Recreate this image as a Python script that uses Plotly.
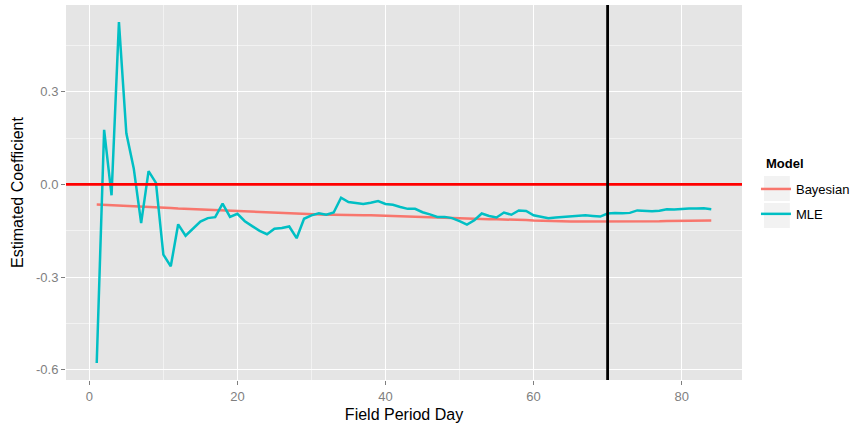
import plotly.graph_objects as go

days = list(range(1, 85))

bayesian = [
    -0.065, -0.066, -0.066, -0.067, -0.068,
    -0.070, -0.071, -0.071, -0.072, -0.073,
    -0.076, -0.078, -0.079, -0.080, -0.081,
    -0.082, -0.083, -0.084, -0.086, -0.087,
    -0.089, -0.090, -0.091, -0.092, -0.093,
    -0.093, -0.094, -0.095, -0.096, -0.097,
    -0.098, -0.098, -0.098, -0.099, -0.099,
    -0.099, -0.100, -0.100, -0.100, -0.101,
    -0.102, -0.103, -0.104, -0.105, -0.106,
    -0.107, -0.108, -0.109, -0.110, -0.111,
    -0.111, -0.112, -0.112, -0.113, -0.113,
    -0.113, -0.114, -0.114, -0.115, -0.117,
    -0.118, -0.119, -0.119, -0.119, -0.120,
    -0.120, -0.120, -0.121, -0.121, -0.121,
    -0.121, -0.121, -0.120, -0.120, -0.119,
    -0.119, -0.119, -0.118, -0.118, -0.118,
    -0.118, -0.117, -0.117, -0.117,
]

mle = [
    -0.578, 0.177, -0.035, 0.526, 0.166,
    0.052, -0.125, 0.043, 0.005, -0.227,
    -0.265, -0.129, -0.166, -0.143, -0.120,
    -0.109, -0.106, -0.062, -0.105, -0.095,
    -0.119, -0.135, -0.150, -0.161, -0.143,
    -0.141, -0.136, -0.174, -0.111, -0.100,
    -0.093, -0.098, -0.091, -0.043, -0.057,
    -0.060, -0.063, -0.059, -0.054, -0.063,
    -0.066, -0.073, -0.079, -0.079, -0.090,
    -0.097, -0.105, -0.105, -0.109, -0.119,
    -0.130, -0.116, -0.094, -0.102, -0.107,
    -0.091, -0.098, -0.084, -0.086, -0.100,
    -0.105, -0.109, -0.107, -0.105, -0.104,
    -0.100, -0.100, -0.102, -0.104, -0.094,
    -0.092, -0.093, -0.092, -0.084, -0.086,
    -0.087, -0.085, -0.080, -0.081, -0.079,
    -0.078, -0.078, -0.077, -0.080,
]

x_ticks = [0, 20, 40, 60, 80]
y_ticks = [-0.6, -0.3, 0.0, 0.3]
y_tick_labels = ["-0.6", "-0.3", "0.0", "0.3"]
reference_value = 0.0
cutoff_day = 70

series_names = ["Bayesian", "MLE"]
series_colors = ["#F8766D", "#00BFC4"]
legend_title = "Model"

fig = go.Figure()
for name, vals, col in zip(series_names, [bayesian, mle], series_colors):
    fig.add_trace(go.Scatter(x=days, y=vals, mode="lines", name=name, legendgroup=name,
                             line=dict(color=col, width=2.5)))

# expansion like ggplot (5%)
xmin, xmax = min(days), max(days)
xpad = (xmax - xmin) * 0.05
allv = bayesian + mle
ymin, ymax = min(allv), max(allv)
ypad = (ymax - ymin) * 0.05

fig.add_hline(y=reference_value, line=dict(color="#FF0000", width=2.8), layer="above")
fig.add_vline(x=cutoff_day, line=dict(color="#000000", width=2.8), layer="above")

# plot area in pixels (for legend decoration placement)
L, R, T, B = 66, 744, 5, 380
W, H = R - L, B - T


def px_x(p):
    return (p - L) / W


def px_y(p):
    return (B - p) / H


# grey legend key backgrounds (ggplot style)
for top in [176, 203]:
    fig.add_shape(type="rect", xref="paper", yref="paper",
                  x0=px_x(766), x1=px_x(792), y0=px_y(top), y1=px_y(top + 25),
                  fillcolor="#F2F2F2", line=dict(width=0), layer="below")

fig.add_annotation(text="<b>" + legend_title + "</b>", xref="paper", yref="paper",
                   x=px_x(766), y=px_y(163), xanchor="left", yanchor="middle",
                   showarrow=False, font=dict(size=13, color="black"))

font_family = "Liberation Sans, Arial, sans-serif"
fig.update_layout(
    width=860, height=427,
    margin=dict(l=L, r=860 - R, t=T, b=427 - B),
    paper_bgcolor="white",
    plot_bgcolor="#E5E5E5",
    font=dict(family=font_family, color="black"),
    showlegend=True,
    legend=dict(
        font=dict(size=13, color="black"),
        x=px_x(758), xanchor="left", y=px_y(174), yanchor="top",
        bgcolor="rgba(0,0,0,0)",
        tracegroupgap=5,
    ),
    xaxis=dict(
        range=[xmin - xpad, xmax + xpad],
        tickvals=x_ticks,
        ticks="outside", ticklen=4, tickcolor="#7F7F7F", tickwidth=1,
        tickfont=dict(size=13, color="#7F7F7F"),
        showgrid=True, gridcolor="white", gridwidth=1.3,
        minor=dict(dtick=10, tick0=0, showgrid=True, gridcolor="#F2F2F2", gridwidth=0.6, ticks=""),
        zeroline=False, showline=False,
        title=dict(text="Field Period Day", font=dict(size=16, color="black"), standoff=6),
    ),
    yaxis=dict(
        range=[ymin - ypad, ymax + ypad],
        tickvals=y_ticks, ticktext=y_tick_labels,
        ticks="outside", ticklen=4, tickcolor="#7F7F7F", tickwidth=1,
        tickfont=dict(size=13, color="#7F7F7F"),
        showgrid=True, gridcolor="white", gridwidth=1.3,
        minor=dict(dtick=0.15, tick0=0, showgrid=True, gridcolor="#F2F2F2", gridwidth=0.6, ticks=""),
        zeroline=False, showline=False,
        title=dict(text="Estimated Coefficient", font=dict(size=16, color="black"), standoff=8),
    ),
)

fig.write_html("out.html", config={"displayModeBar": False},
               post_script="document.body.style.margin='0px';")
